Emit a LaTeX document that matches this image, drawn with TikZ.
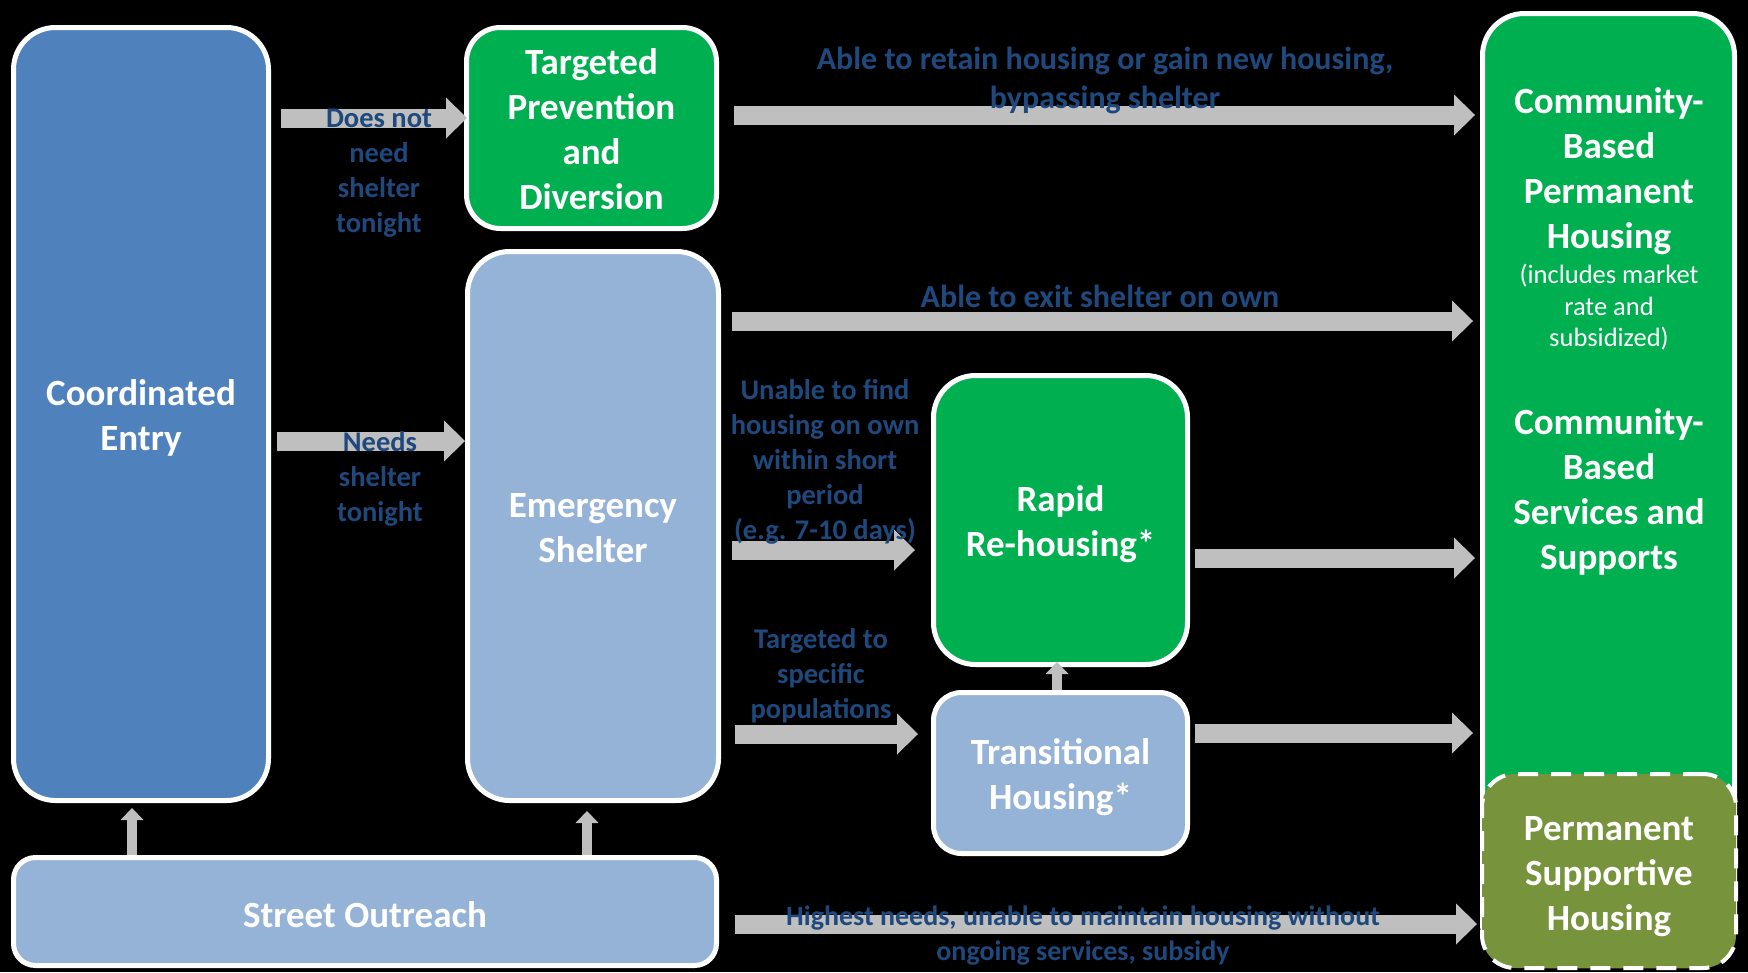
\documentclass[tikz,border=0pt]{standalone}
\usepackage{fontspec}
\setmainfont{Carlito}
\usetikzlibrary{arrows.meta}
\definecolor{entryblue}{HTML}{4F81BD}
\definecolor{paleblue}{HTML}{95B3D7}
\definecolor{housegreen}{HTML}{00B050}
\definecolor{psholive}{HTML}{77933C}
\definecolor{arrgray}{HTML}{BFBFBF}
\definecolor{lbltext}{HTML}{1F497D}
\newcommand{\boxfont}{\fontsize{37}{45}\selectfont\bfseries}
\newcommand{\lblfont}{\fontsize{28.5}{35}\selectfont\bfseries}
\newcommand{\biglblfont}{\fontsize{32}{39}\selectfont\bfseries}
\newcommand{\notefont}{\fontsize{26.5}{31.5}\selectfont}
\begin{document}
\begin{tikzpicture}[x=1pt, y=-1pt,
  box/.style={draw=white, line width=5pt, inner sep=0pt},
  boxtext/.style={text=white, align=center, font=\boxfont, inner sep=0pt},
  lbl/.style={text=lbltext, align=center, font=\lblfont, inner sep=0pt},
  blockarr/.style={draw=arrgray, line width=19pt,
                   -{Triangle[length=21pt, width=41pt, line width=0pt]}},
  uparr/.style={draw=arrgray, line width=10pt,
                -{Triangle[length=12pt, width=23pt, line width=0pt]}}
]
\fill[black] (0,0) rectangle (1748,972);
\useasboundingbox (0,0) rectangle (1748,972);
% boxes
\node[box, fill=entryblue, rounded corners=42pt, minimum width=255pt,
      minimum height=773pt] (ce) at (141,414) {};
\node[box, fill=housegreen, rounded corners=34pt, minimum width=250pt,
      minimum height=201pt] (tp) at (591.5,128) {};
\node[box, fill=paleblue, rounded corners=42pt, minimum width=251pt,
      minimum height=549pt] (es) at (593,526) {};
\node[box, fill=housegreen, rounded corners=42pt, minimum width=254pt,
      minimum height=289pt] (rrh) at (1060.5,520) {};
\node[box, fill=paleblue, rounded corners=28pt, minimum width=254pt,
      minimum height=161pt] (th) at (1060.5,773) {};
\node[box, fill=paleblue, rounded corners=22pt, minimum width=703pt,
      minimum height=108pt] (so) at (365,911.5) {};
\node[box, fill=housegreen, rounded corners=42pt, minimum width=252pt,
      minimum height=952pt] (cb) at (1608.5,489.5) {};
\node[box, fill=psholive, line width=4pt, dash pattern=on 20pt off 13pt,
      rounded corners=33pt, minimum width=254pt,
      minimum height=194pt] (psh) at (1609,871) {};
% box texts
\node[boxtext] (cetxt) at (141,417.5) {Coordinated\\Entry};
\node[boxtext] (tptxt) at (591.5,129) {Targeted\\Prevention\\and\\Diversion};
\node[boxtext] (estxt) at (593,528.5) {Emergency\\Shelter};
\node[boxtext] (rrhtxt) at (1060.5,524.5) {Rapid\\Re-housing*};
\node[boxtext] (thtxt) at (1060.5,777.5) {Transitional\\Housing*};
\node[boxtext] (sotxt) at (365,915) {Street Outreach};
\node[boxtext] (cbph) at (1609,171.5) {Community-\\Based\\Permanent\\Housing};
\node[boxtext, font=\notefont] (cbnote) at (1609,307.5) {(includes market\\rate and\\subsidized)};
\node[boxtext] (cbss) at (1609,491.5) {Community-\\Based\\Services and\\Supports};
\node[boxtext] (pshtxt) at (1609,877) {Permanent\\Supportive\\Housing};
% connectors
\draw[blockarr, shorten <=10pt, shorten >=-3pt] (ce.east |- 0,118) -- (tp.west |- 0,118);
\draw[blockarr, shorten <=6pt] (ce.east |- 0,441) -- (es.west |- 0,441);
\draw[blockarr, shorten <=15pt, shorten >=5pt] (tp.east |- 0,115) -- (cb.west |- 0,115);
\draw[blockarr, shorten <=11pt, shorten >=7pt] (es.east |- 0,321) -- (cb.west |- 0,321);
\draw[blockarr, shorten <=11pt, shorten >=16pt] (es.east |- 0,550) -- (rrh.west |- 0,550);
\draw[blockarr, shorten <=14pt, shorten >=13pt] (es.east |- 0,734) -- (th.west |- 0,734);
\draw[blockarr, shorten <=5pt, shorten >=5pt] (rrh.east |- 0,558) -- (cb.west |- 0,558);
\draw[blockarr, shorten <=5pt, shorten >=7pt] (th.east |- 0,733) -- (cb.west |- 0,733);
\draw[blockarr, shorten <=16pt, shorten >=3pt] (so.east |- 0,924) -- (psh.west |- 0,924);
\draw[uparr, shorten >=-5pt] (th.north -| 1057,0) -- (rrh.south -| 1057,0);
\draw[uparr, shorten >=5pt] (so.north -| 132,0) -- (ce.south -| 132,0);
\draw[uparr, shorten >=8pt] (so.north -| 587,0) -- (es.south -| 587,0);
% labels
\node[lbl] (l1) at (379,173) {Does not\\need\\shelter\\tonight};
\node[lbl] (l2) at (380,479) {Needs\\shelter\\tonight};
\node[lbl, font=\biglblfont] (l3) at (1105,80)
  {Able to retain housing or gain new housing,\\bypassing shelter};
\node[lbl, font=\biglblfont] (l4) at (1100,296) {Able to exit shelter on own};
\node[lbl] (l5) at (825,461.5) {Unable to find\\housing on own\\within short\\period\\(e.g. 7-10 days)};
\node[lbl] (l6) at (821,676) {Targeted to\\specific\\populations};
\node[lbl, font={\fontsize{28}{35}\selectfont\bfseries}] (l7) at (1083,936)
  {Highest needs, unable to maintain housing without\\ongoing services, subsidy};
\end{tikzpicture}
\end{document}
